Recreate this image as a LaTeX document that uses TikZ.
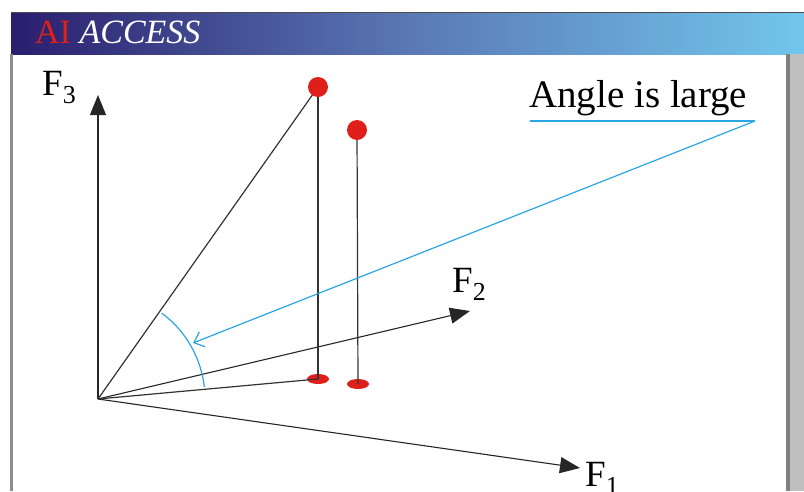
\documentclass[tikz,border=0pt]{standalone}
\usepackage{fontspec}
\setmainfont{Liberation Serif}
\usepackage{xcolor}
\usetikzlibrary{arrows.meta,positioning,shapes.geometric}

\definecolor{barnavy}{HTML}{2A1E6E}
\definecolor{barmid}{HTML}{5A78B4}
\definecolor{barsky}{HTML}{72C6EE}
\definecolor{hintblue}{HTML}{2AA7E2}
\definecolor{dotred}{HTML}{DE1F1A}

\begin{document}
\begin{tikzpicture}[
    x=1pt, y=-1pt,
    >={Triangle[length=20pt,width=16pt]},
    axis/.style={->,black!85,line width=1.1pt},
    stem/.style={black!80,line width=1.2pt},
    lbl/.style={font=\fontsize{37}{40}\selectfont,anchor=base west,inner sep=0pt},
    tipdot/.style={circle,fill=dotred,minimum size=20pt,inner sep=0pt},
    footdot/.style={ellipse,fill=dotred,minimum width=22pt,minimum height=10pt,inner sep=0pt},
    hint/.style={hintblue,line width=1.2pt},
  ]

  % --- frame: header bar, white panel, grey side strip ---
  \useasboundingbox (0,0) rectangle (804,491);
  \fill[white] (0,0) rectangle (804,491);
  \shade[left color=barnavy,right color=barsky,middle color=barmid]
    (11,12) rectangle (804,54);
  \draw[black!70,line width=1pt] (11,12.5) -- (804,12.5);
  \fill[black!25] (788,54) rectangle (804,491);
  \fill[black!50] (786,54) rectangle (790,491);
  \fill[black!45] (10,54) rectangle (12.5,491);
  \node[anchor=base west,inner sep=0pt,font=\fontsize{34}{36}\selectfont]
    (brand) at (35,43) {\textcolor{dotred}{AI} \textcolor{white}{\textit{ACCESS}}};

  % --- axes from the origin ---
  \coordinate (o)  at (98,399);
  \coordinate (t3) at (98,95);
  \coordinate (t2) at (470,311);
  \coordinate (t1) at (580,468);
  \draw[axis] (o) -- (t3);
  \draw[axis] (o) -- (t2);
  \draw[axis] (o) -- (t1);
  \node[lbl] (f3) at (42,95)  {F\textsubscript{3}};
  \node[lbl] (f2) at (452,292) {F\textsubscript{2}};
  \node[lbl] (f1) at (585,486) {F\textsubscript{1}};

  % --- the two points and their feet ---
  \node[footdot] (b1) at (318,379) {};
  \node[footdot] (b2) at (358,384) {};
  \coordinate (c1) at (318,87);
  \coordinate (c2) at (357,130);
  \draw[stem] (c1) -- (b1.center);
  \draw[stem] (c2) -- (b2.center);
  \draw[stem] (o) -- (c1);
  \draw[stem] (o) -- (b1.center);
  \node[tipdot] (p1) at (c1) {};
  \node[tipdot] (p2) at (c2) {};

  % --- the angle and its note ---
  \draw[hint] ([shift={(-53.5:107)}]o) arc[start angle=-53.5,end angle=-6.5,radius=107];
  \node[anchor=base west,inner sep=0pt,font=\fontsize{39}{42}\selectfont]
    (note) at (529,107) {Angle is large};
  \coordinate (u0) at (530,121);
  \coordinate (u1) at (755,121);
  \coordinate (aim) at (193,343);
  \draw[hint] (u0) -- (u1);
  \draw[hint,-{Straight Barb[length=9pt,width=16pt]}] (u1) -- (aim);

\end{tikzpicture}
\end{document}
